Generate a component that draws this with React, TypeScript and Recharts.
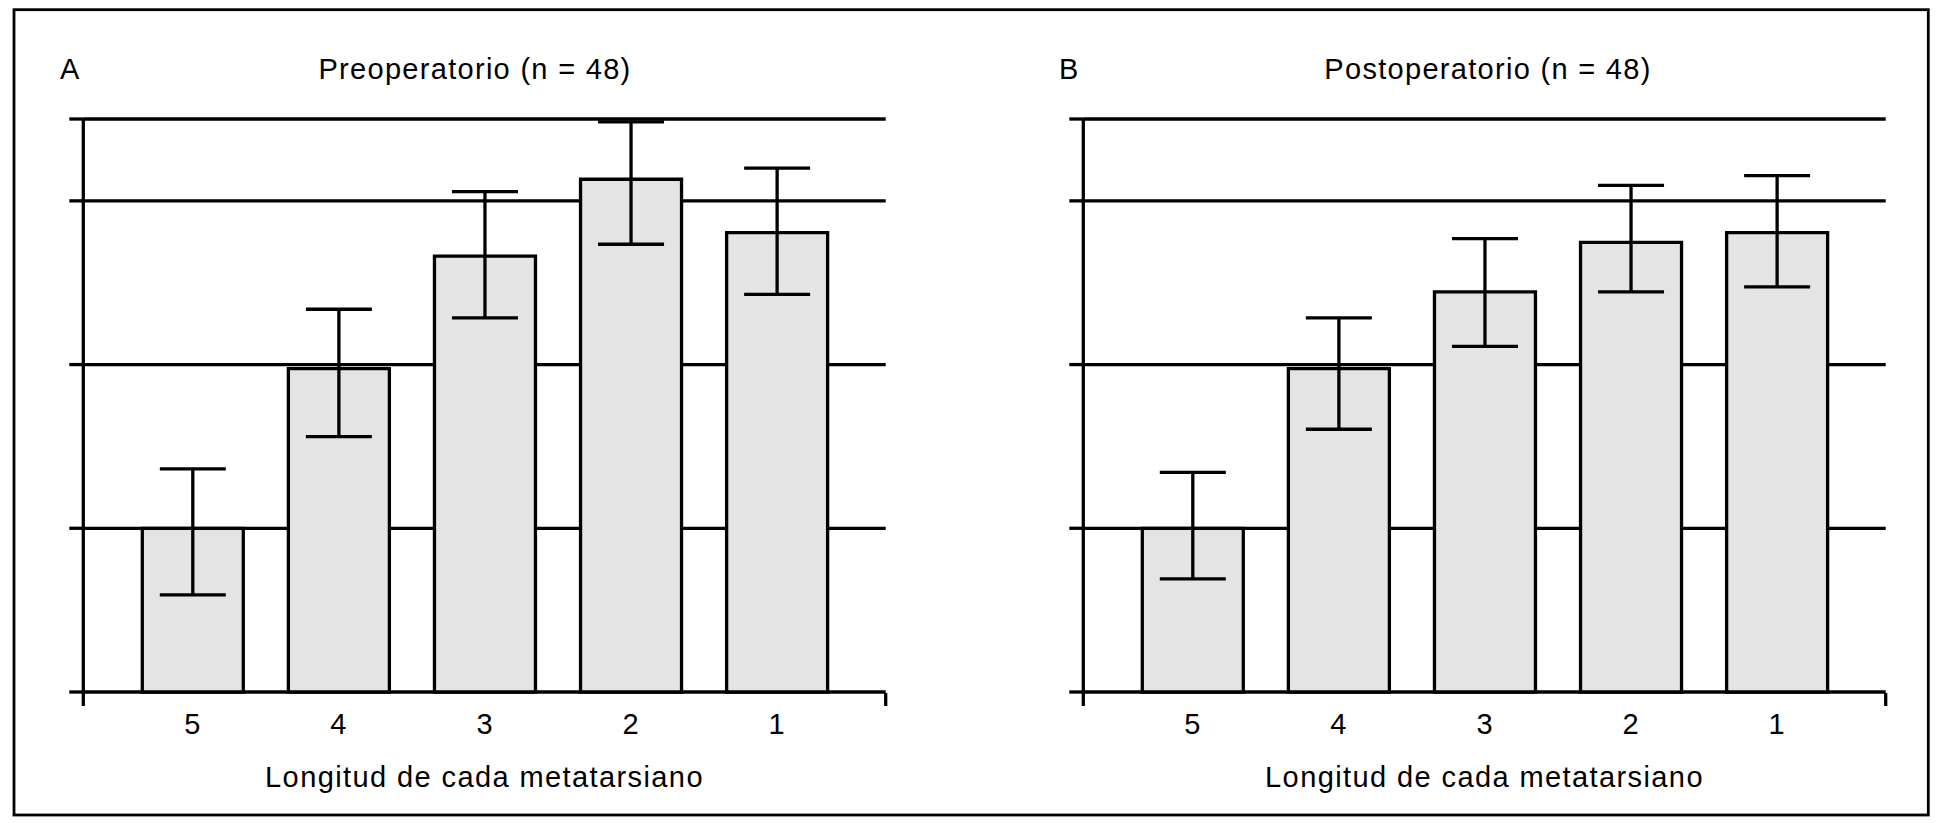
import React from "react";
import { BarChart, Bar, XAxis, YAxis, CartesianGrid, ErrorBar, Label } from "recharts";

const categories = ["5", "4", "3", "2", "1"];

// Preoperatorio: bar heights and the lower/upper ends of each error bar
const preValues = [1.0, 1.975, 2.663, 3.132, 2.806];
const preErrLow = [0.593, 1.56, 2.285, 2.735, 2.429];
const preErrHigh = [1.363, 2.338, 3.056, 3.482, 3.2];

// Postoperatorio
const postValues = [1.0, 1.975, 2.444, 2.746, 2.806];
const postErrLow = [0.691, 1.605, 2.111, 2.444, 2.474];
const postErrHigh = [1.341, 2.285, 2.769, 3.094, 3.154];

const yTicks = [0, 1, 2, 3, 3.5];
// end ticks of the x axis frame (numeric axis spanning the row indices)
const frameTicks = [0, 4];

const FONT = "'Liberation Sans', Arial, Helvetica, sans-serif";
const INK = "#000";
const LW = 3.3;

function buildRows(values: number[], low: number[], high: number[]) {
  return categories.map((cat, i) => ({
    cat,
    value: values[i],
    err: [values[i] - low[i], high[i] - values[i]],
  }));
}

const preRows = buildRows(preValues, preErrLow, preErrHigh);
const postRows = buildRows(postValues, postErrLow, postErrHigh);

// ticks keep their lines but show no text
const noLabel = () => <g />;

interface PanelProps {
  rows: { cat: string; value: number; err: number[] }[];
  margin: { top: number; right: number; bottom: number; left: number };
}

function Panel({ rows, margin }: PanelProps) {
  return (
    <BarChart width={970} height={823} data={rows} margin={margin} barSize={101}>
      <CartesianGrid vertical={false} stroke={INK} strokeWidth={LW} />
      <XAxis
        dataKey="cat"
        height={1}
        interval={0}
        axisLine={false}
        tickLine={false}
        tickSize={0}
        tickMargin={21}
        padding={{ left: 36, right: 36 }}
        tick={{ fill: INK, fontSize: 29, fontFamily: FONT }}
      >
        <Label
          value="Longitud de cada metatarsiano"
          position="bottom"
          offset={73}
          fill={INK}
          fontSize={29}
          fontFamily={FONT}
          style={{ letterSpacing: "1.4px" }}
        />
      </XAxis>
      <XAxis
        xAxisId="frame"
        type="number"
        domain={[0, 4]}
        allowDataOverflow
        ticks={frameTicks}
        height={1}
        tick={noLabel}
        axisLine={false}
        tickSize={13}
        tickLine={{ stroke: INK, strokeWidth: LW }}
      />
      <YAxis
        domain={[0, 3.5]}
        ticks={yTicks}
        width={1}
        tick={noLabel}
        tickSize={14}
        axisLine={{ stroke: INK, strokeWidth: LW }}
        tickLine={{ stroke: INK, strokeWidth: LW }}
      />
      <Bar dataKey="value" fill="#e4e4e4" stroke={INK} strokeWidth={LW} isAnimationActive={false}>
        <ErrorBar dataKey="err" width={33} stroke={INK} strokeWidth={LW} />
      </Bar>
    </BarChart>
  );
}

export default function App() {
  const textStyle = { fontFamily: FONT, fontSize: 29, fill: INK };
  return (
    <div style={{ position: "absolute", left: 0, top: 0, width: 1940, height: 823, background: "#fff" }}>
      <svg width={1940} height={823} style={{ position: "absolute", left: 0, top: 0 }}>
        <rect x={14} y={9.7} width={1914.3} height={805.3} fill="none" stroke={INK} strokeWidth={2.8} />
        <text x={60} y={79} style={textStyle}>A</text>
        <text x={1059} y={79} style={textStyle}>B</text>
        <text x={475} y={79} textAnchor="middle" style={{ ...textStyle, letterSpacing: "1.3px" }}>
          Preoperatorio (n = 48)
        </text>
        <text x={1488} y={79} textAnchor="middle" style={{ ...textStyle, letterSpacing: "1.3px" }}>
          Postoperatorio (n = 48)
        </text>
      </svg>
      <div style={{ position: "absolute", left: 0, top: 0 }}>
        <Panel rows={preRows} margin={{ top: 119, right: 84.3, bottom: 129, left: 82.3 }} />
      </div>
      <div style={{ position: "absolute", left: 970, top: 0 }}>
        <Panel rows={postRows} margin={{ top: 119, right: 54.3, bottom: 129, left: 112.3 }} />
      </div>
    </div>
  );
}
